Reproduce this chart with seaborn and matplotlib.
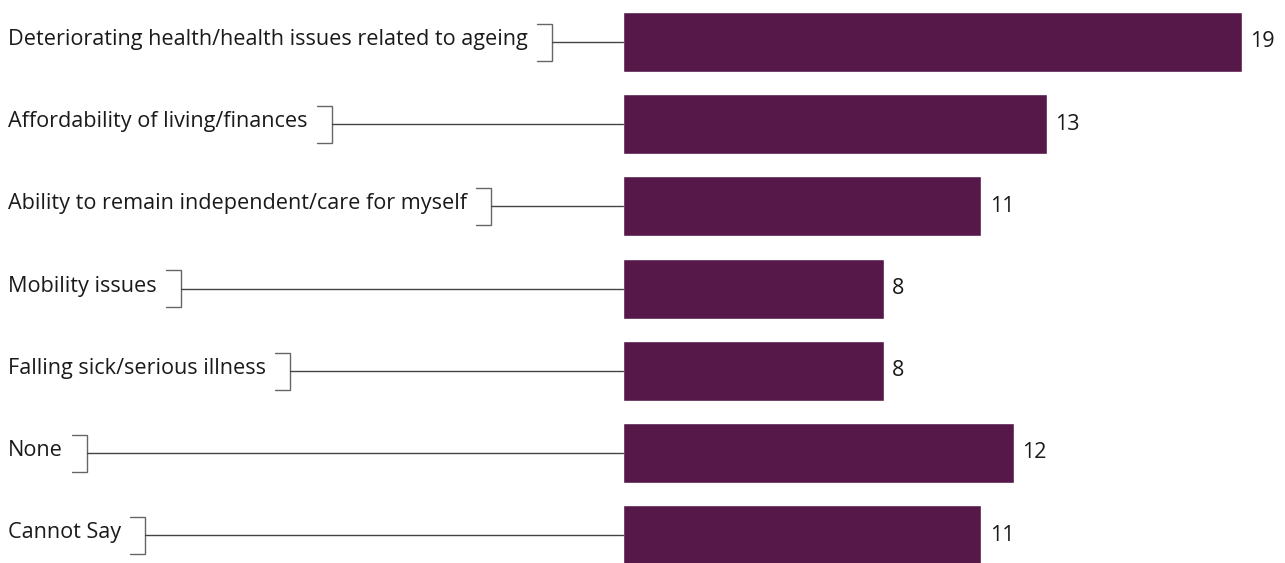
import matplotlib
matplotlib.use('Agg')
import matplotlib.pyplot as plt
import seaborn as sns
import pandas as pd

categorias = [
    "Deteriorating health/health issues related to ageing",
    "Affordability of living/finances",
    "Ability to remain independent/care for myself",
    "Mobility issues",
    "Falling sick/serious illness",
    "None",
    "Cannot Say",
]
valores = [19, 13, 11, 8, 8, 12, 11]

color_barra = "#561849"

df = pd.DataFrame({"categoria": categorias, "valor": valores})

sns.set_style("white")
plt.rcParams['font.family'] = ['Open Sans', 'DejaVu Sans']

fig = plt.figure(figsize=(12.85, 5.63), dpi=100)
ax = fig.add_axes([0, 0, 1, 1])

sns.barplot(data=df, y="categoria", x="valor", color=color_barra,
            width=0.73, saturation=1, ax=ax, orient="h")

ax.set_xlim(-19.12, 20.32)
ax.set_ylim(6.34, -0.511)
ax.axis("off")

ax.bar_label(ax.containers[0], padding=6, fontsize=15.5, color="#1a1a1a")

fig.canvas.draw()
renderer = fig.canvas.get_renderer()
inv = ax.transData.inverted()
px = 32.58  # pixels por unidad

for i, cat in enumerate(categorias):
    t = ax.text(8 / px - 19.12, i - 0.03, cat, fontsize=15.6, va="center", ha="left",
                color="#1a1a1a")
    bb = t.get_window_extent(renderer=renderer)
    x_fin = inv.transform((bb.x1, 0))[0]
    x_br = x_fin + 24 / px
    x_tick = x_fin + 9 / px
    arriba = i - 0.22
    abajo = i + 0.23
    ax.plot([x_tick, x_br, x_br, x_tick], [arriba, arriba, abajo, abajo],
            color="#666666", linewidth=1, solid_joinstyle="miter")
    ax.plot([x_br, 0], [i, i], color="#444444", linewidth=1)

plt.savefig("out.png", dpi=100)
plt.close()
